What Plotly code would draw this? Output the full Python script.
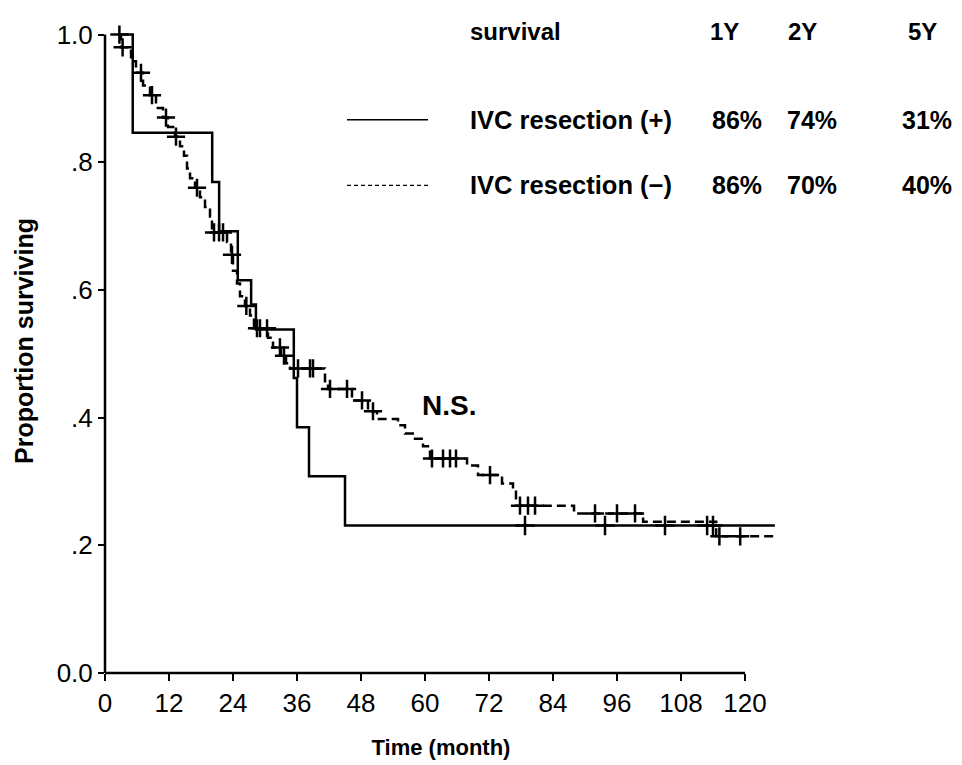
import plotly.graph_objects as go

# ---------------- data ----------------
# IVC resection (+): step times (months) and survival after each step
pos_times = [2.4, 5.2, 20.1, 21.4, 24.9, 27.4, 28.3, 35.4, 36.0, 38.25, 45.0]
pos_surv = [1.0, 0.846, 0.769, 0.692, 0.615, 0.577, 0.538, 0.462, 0.385, 0.308, 0.231]
pos_censor = [78.75, 93.75, 105.0, 112.9, 114.0]
pos_end = 125.6

# IVC resection (-)
neg_times = [2.44, 3.0, 4.88, 5.81, 7.13, 8.44, 9.56, 10.88, 11.81, 13.13, 14.06, 14.81,
             15.38, 15.94, 16.88, 17.81, 18.75, 19.69, 20.06, 22.88, 23.63, 24.0, 24.75,
             25.31, 26.25, 27.19, 27.94, 30.56, 31.5, 33.0, 33.94, 34.69, 41.25, 41.81,
             46.31, 49.31, 51.0, 54.94, 56.25, 58.13, 59.63, 60.94, 67.88, 69.94, 74.44,
             76.5, 77.06, 87.94, 100.9, 114.6]
neg_surv = [1.0, 0.98, 0.958, 0.94, 0.92, 0.905, 0.885, 0.87, 0.855, 0.84, 0.825, 0.81,
            0.79, 0.775, 0.76, 0.745, 0.73, 0.715, 0.69, 0.675, 0.655, 0.63, 0.61,
            0.59, 0.575, 0.56, 0.54, 0.525, 0.51, 0.497, 0.485, 0.477, 0.457, 0.445,
            0.427, 0.41, 0.398, 0.388, 0.375, 0.367, 0.355, 0.336, 0.325, 0.31, 0.297,
            0.288, 0.262, 0.25, 0.237, 0.214]
neg_censor = [2.7, 3.3, 6.75, 8.81, 11.44, 13.31, 17.25, 20.44, 21.38, 22.13, 23.81, 26.5,
              28.5, 29.06, 30.38, 32.8, 33.56, 36.19, 38.44, 39.0, 42.19, 45.38, 48.19,
              50.25, 61.31, 63.38, 64.69, 65.81, 72.19, 77.81, 79.31, 80.63, 91.88, 96.0,
              99.38, 115.2, 119.1]
neg_end = 125.6

x_ticks = [0, 12, 24, 36, 48, 60, 72, 84, 96, 108, 120]
y_ticks = [0.0, 0.2, 0.4, 0.6, 0.8, 1.0]
y_ticktext = ["0.0", ".2", ".4", ".6", ".8", "1.0"]

table_header = ["survival", "1Y", "2Y", "5Y"]
group_names = ["IVC resection (+)", "IVC resection (\u2212)"]
table_values = [["86%", "74%", "31%"], ["86%", "70%", "40%"]]

# ---------------- layout geometry ----------------
W, H = 962, 765
ML, MR, MT, MB = 105, 185, 9, 90
X_RANGE = [0, 126]
Y_RANGE = [0, 1.04]
PW, PH = W - ML - MR, H - MT - MB


def px(X):
    return (X - ML) / PW


def py(Y):
    return (H - MB - Y) / PH


def step_xy(times, surv, end):
    return times + [end], surv + [surv[-1]]


def surv_at(times, surv, t):
    v = surv[0]
    for ti, si in zip(times, surv):
        if ti <= t:
            v = si
    return v


FONT = "Liberation Sans, Arial, sans-serif"
LW = 2.5

fig = go.Figure()

xs, ys = step_xy(pos_times, pos_surv, pos_end)
fig.add_trace(go.Scatter(x=xs, y=ys, mode="lines", line=dict(color="black", width=LW, shape="hv"),
                         showlegend=False, hoverinfo="skip"))
xs, ys = step_xy(neg_times, neg_surv, neg_end)
fig.add_trace(go.Scatter(x=xs, y=ys, mode="lines",
                         line=dict(color="black", width=LW, shape="hv", dash="9px,5px"),
                         showlegend=False, hoverinfo="skip"))

fig.add_trace(go.Scatter(x=pos_censor, y=[surv_at(pos_times, pos_surv, t) for t in pos_censor],
                         mode="markers",
                         marker=dict(symbol="cross-thin", size=14, line=dict(color="black", width=2.5)),
                         showlegend=False, hoverinfo="skip"))
fig.add_trace(go.Scatter(x=neg_censor, y=[surv_at(neg_times, neg_surv, t) for t in neg_censor],
                         mode="markers",
                         marker=dict(symbol="cross-thin", size=13, line=dict(color="black", width=2.5)),
                         showlegend=False, hoverinfo="skip"))

# axis lines (x axis only up to 120, y axis only up to 1.0)
x_end_paper = (x_ticks[-1] - X_RANGE[0]) / (X_RANGE[1] - X_RANGE[0])
y_end_paper = (y_ticks[-1] - Y_RANGE[0]) / (Y_RANGE[1] - Y_RANGE[0])
shapes = [
    dict(type="line", xref="paper", yref="paper", x0=0, x1=x_end_paper, y0=0, y1=0,
         line=dict(color="black", width=LW)),
    dict(type="line", xref="paper", yref="paper", x0=0, x1=0, y0=0, y1=y_end_paper,
         line=dict(color="black", width=LW)),
]

# table-style legend
row_y = [32, 120, 186]
col_x = [468, 708, 786, 906]
val_x = [710, 785, 900]
annotations = []
for i, txt in enumerate(table_header):
    annotations.append(dict(x=px(col_x[i]), y=py(row_y[0]), xref="paper", yref="paper", text=txt,
                            showarrow=False, xanchor="left", yanchor="middle",
                            font=dict(family=FONT, size=24, color="black", weight="bold")))
for r in range(2):
    annotations.append(dict(x=px(col_x[0]), y=py(row_y[r + 1]), xref="paper", yref="paper",
                            text=group_names[r], showarrow=False, xanchor="left", yanchor="middle",
                            font=dict(family=FONT, size=25.5, color="black", weight="bold")))
    for c in range(3):
        annotations.append(dict(x=px(val_x[c]), y=py(row_y[r + 1]), xref="paper", yref="paper",
                                text=table_values[r][c], showarrow=False, xanchor="left",
                                yanchor="middle",
                                font=dict(family=FONT, size=25, color="black", weight="bold")))
shapes.append(dict(type="line", xref="paper", yref="paper", x0=px(347), x1=px(428),
                   y0=py(row_y[1]), y1=py(row_y[1]), line=dict(color="black", width=1.5)))
shapes.append(dict(type="line", xref="paper", yref="paper", x0=px(347), x1=px(428),
                   y0=py(row_y[2]), y1=py(row_y[2]), line=dict(color="black", width=1.2, dash="4px,3px")))

annotations.append(dict(x=px(449), y=py(407), xref="paper", yref="paper", text="N.S.",
                        showarrow=False, xanchor="center", yanchor="middle",
                        font=dict(family=FONT, size=28, color="black", weight="bold")))

fig.update_layout(
    width=W, height=H,
    margin=dict(l=ML, r=MR, t=MT, b=MB, pad=0),
    paper_bgcolor="white", plot_bgcolor="white",
    shapes=shapes, annotations=annotations,
    xaxis=dict(range=X_RANGE, tickvals=x_ticks, ticktext=[str(v) for v in x_ticks],
               showgrid=False, zeroline=False, showline=False,
               ticks="outside", ticklen=7, tickwidth=2, tickcolor="black",
               tickfont=dict(family=FONT, size=26, color="black"),
               title=dict(text="Time (month)", standoff=22,
                          font=dict(family=FONT, size=22, color="black", weight="bold"))),
    yaxis=dict(range=Y_RANGE, tickvals=y_ticks, ticktext=y_ticktext,
               showgrid=False, zeroline=False, showline=False,
               ticks="outside", ticklen=6, tickwidth=2, tickcolor="black",
               tickfont=dict(family=FONT, size=26, color="black"),
               title=dict(text="Proportion surviving", standoff=15,
                          font=dict(family=FONT, size=25, color="black", weight="bold"))),
)

fig.write_html("out.html")
